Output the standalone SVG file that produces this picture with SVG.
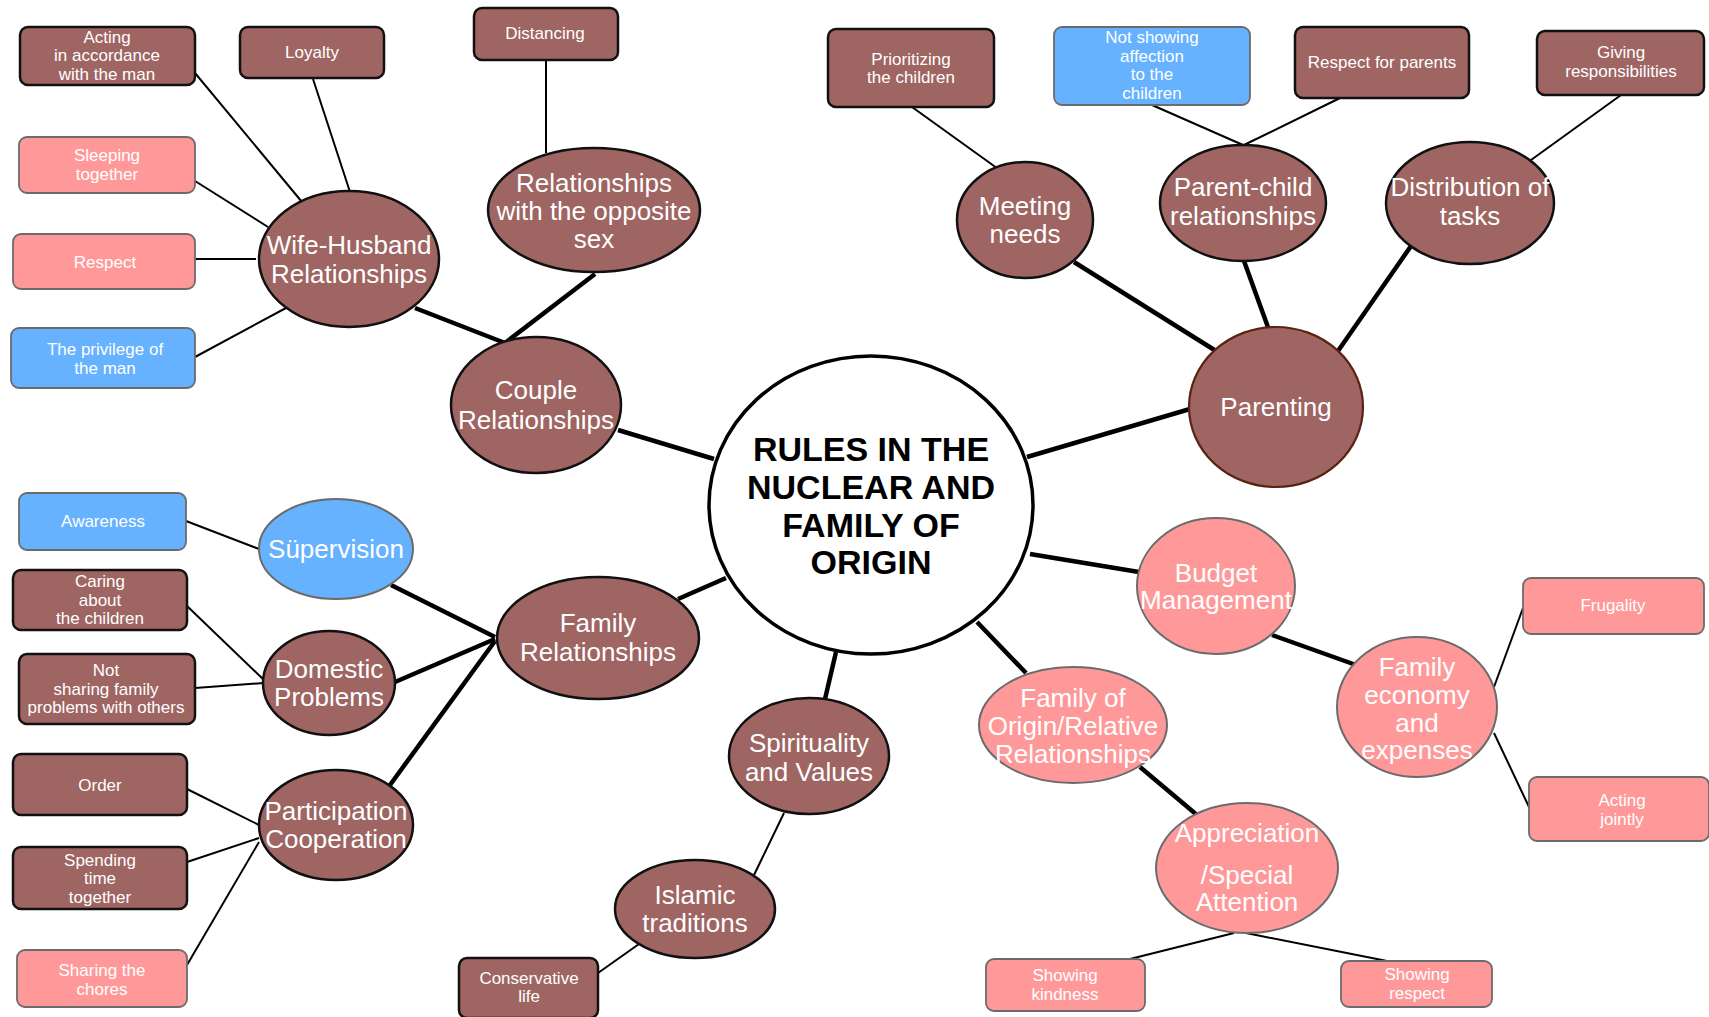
<svg xmlns="http://www.w3.org/2000/svg" width="1709" height="1017" viewBox="0 0 1709 1017">
<style>
.bg{fill:#ffffff}
.br{fill:#9E6562;stroke:#111;stroke-width:2.5}
.pk{fill:#FF9999;stroke:#6b6b6b;stroke-width:1.8}
.bl{fill:#66B2FF;stroke:#6b6b6b;stroke-width:1.8}
.brx{fill:#9E6562;stroke:#111;stroke-width:2.5}
.pkx{fill:#FF9999;stroke:#6b6b6b;stroke-width:2}
.blx{fill:#66B2FF;stroke:#6b6b6b;stroke-width:2}
.par{fill:#9E6562;stroke:#5a2413;stroke-width:2.2}
.ctr{fill:#ffffff;stroke:#000;stroke-width:3.5}
.bt{font-family:"Liberation Sans",Arial,sans-serif;font-size:17px;fill:#fff;text-anchor:middle}
.et{font-family:"Liberation Sans",Arial,sans-serif;font-size:26px;fill:#fff;text-anchor:middle}
.ct{font-family:"Liberation Sans",Arial,sans-serif;font-size:34px;font-weight:bold;fill:#000;text-anchor:middle}
.thick{stroke:#000;stroke-width:4.5;fill:none}
.thin{stroke:#000;stroke-width:2;fill:none}
</style>
<rect class="bg" x="0" y="0" width="1709" height="1017"/>
<g id="connectors">
<line class="thick" x1="714" y1="459" x2="618" y2="430"/>
<line class="thick" x1="505" y1="343" x2="415" y2="308"/>
<line class="thick" x1="505" y1="343" x2="595" y2="274"/>
<line class="thick" x1="1027" y1="457" x2="1190" y2="409"/>
<line class="thick" x1="1216" y1="351" x2="1074" y2="262"/>
<line class="thick" x1="1269" y1="330" x2="1244" y2="261"/>
<line class="thick" x1="1338" y1="351" x2="1411" y2="246"/>
<line class="thick" x1="1030" y1="554" x2="1139" y2="572"/>
<line class="thick" x1="1272" y1="635" x2="1356" y2="665"/>
<line class="thick" x1="977" y1="622" x2="1026" y2="673"/>
<line class="thick" x1="1140" y1="767" x2="1197" y2="815"/>
<line class="thick" x1="836" y1="652" x2="825" y2="699"/>
<line class="thick" x1="726" y1="578" x2="678" y2="599"/>
<line class="thick" x1="495" y1="637" x2="391" y2="585"/>
<line class="thick" x1="495" y1="639" x2="395" y2="682"/>
<line class="thick" x1="495" y1="641" x2="390" y2="785"/>
<line class="thin" x1="784" y1="813" x2="754" y2="875"/>
<line class="thin" x1="639" y1="944" x2="598" y2="973"/>
<line class="thin" x1="302" y1="202" x2="195" y2="73"/>
<line class="thin" x1="350" y1="192" x2="313" y2="79"/>
<line class="thin" x1="268" y1="227" x2="195" y2="181"/>
<line class="thin" x1="256" y1="259" x2="195" y2="259"/>
<line class="thin" x1="286" y1="308" x2="195" y2="357"/>
<line class="thin" x1="546" y1="153" x2="546" y2="60"/>
<line class="thin" x1="1001" y1="171" x2="912" y2="107"/>
<line class="thin" x1="1243" y1="145" x2="1152" y2="105"/>
<line class="thin" x1="1244" y1="145" x2="1340" y2="98"/>
<line class="thin" x1="1531" y1="160" x2="1621" y2="95"/>
<line class="thin" x1="259" y1="549" x2="186" y2="521"/>
<line class="thin" x1="264" y1="680" x2="187" y2="606"/>
<line class="thin" x1="264" y1="683" x2="195" y2="688"/>
<line class="thin" x1="259" y1="825" x2="187" y2="789"/>
<line class="thin" x1="259" y1="838" x2="187" y2="862"/>
<line class="thin" x1="259" y1="842" x2="187" y2="965"/>
<line class="thin" x1="1494" y1="687" x2="1523" y2="608"/>
<line class="thin" x1="1494" y1="733" x2="1530" y2="809"/>
<line class="thin" x1="1234" y1="933" x2="1130" y2="959"/>
<line class="thin" x1="1246" y1="933" x2="1387" y2="961"/>
</g>
<g id="n-center"><ellipse class="ctr" cx="871" cy="505" rx="162" ry="149"/>
<text class="ct" x="871" y="461">RULES IN THE</text><text class="ct" x="871" y="499">NUCLEAR AND</text><text class="ct" x="871" y="537">FAMILY OF</text><text class="ct" x="871" y="574">ORIGIN</text></g>
<g id="n-couple"><ellipse class="brx" cx="536" cy="405" rx="85" ry="68"/><text class="et" x="536" y="399">Couple</text><text class="et" x="536" y="429">Relationships</text></g>
<g id="n-wifehusband"><ellipse class="brx" cx="349" cy="259" rx="90" ry="68"/><text class="et" x="349" y="254">Wife-Husband</text><text class="et" x="349" y="283">Relationships</text></g>
<g id="n-opposite"><ellipse class="brx" cx="594" cy="210" rx="106" ry="62"/><text class="et" x="594" y="192">Relationships</text><text class="et" x="594" y="220">with the opposite</text><text class="et" x="594" y="248">sex</text></g>
<g id="n-supervision"><ellipse class="blx" cx="336" cy="549" rx="77" ry="50"/><text class="et" x="336" y="558">Süpervision</text></g>
<g id="n-familyrel"><ellipse class="brx" cx="598" cy="638" rx="101" ry="61"/><text class="et" x="598" y="632">Family</text><text class="et" x="598" y="661">Relationships</text></g>
<g id="n-domestic"><ellipse class="brx" cx="329" cy="683" rx="66" ry="52"/><text class="et" x="329" y="678">Domestic</text><text class="et" x="329" y="706">Problems</text></g>
<g id="n-participation"><ellipse class="brx" cx="336" cy="825" rx="77" ry="55"/><text class="et" x="336" y="820">Participation</text><text class="et" x="336" y="848">Cooperation</text></g>
<g id="n-spirituality"><ellipse class="brx" cx="809" cy="756" rx="80" ry="58"/><text class="et" x="809" y="752">Spirituality</text><text class="et" x="809" y="781">and Values</text></g>
<g id="n-islamic"><ellipse class="brx" cx="695" cy="909" rx="80" ry="49"/><text class="et" x="695" y="904">Islamic</text><text class="et" x="695" y="932">traditions</text></g>
<g id="n-parenting"><ellipse class="par" cx="1276" cy="407" rx="87" ry="80"/><text class="et" x="1276" y="416">Parenting</text></g>
<g id="n-meeting"><ellipse class="brx" cx="1025" cy="220" rx="68" ry="58"/><text class="et" x="1025" y="215">Meeting</text><text class="et" x="1025" y="243">needs</text></g>
<g id="n-parentchild"><ellipse class="brx" cx="1243" cy="203" rx="83" ry="58"/><text class="et" x="1243" y="196">Parent-child</text><text class="et" x="1243" y="225">relationships</text></g>
<g id="n-distribution"><ellipse class="brx" cx="1470" cy="203" rx="84" ry="61"/><text class="et" x="1470" y="196">Distribution of</text><text class="et" x="1470" y="225">tasks</text></g>
<g id="n-budget"><ellipse class="pkx" cx="1216" cy="586" rx="79" ry="68"/><text class="et" x="1216" y="582">Budget</text><text class="et" x="1216" y="609">Management</text></g>
<g id="n-economy"><ellipse class="pkx" cx="1417" cy="707" rx="80" ry="70"/><text class="et" x="1417" y="676">Family</text><text class="et" x="1417" y="704">economy</text><text class="et" x="1417" y="732">and</text><text class="et" x="1417" y="759">expenses</text></g>
<g id="n-origin"><ellipse class="pkx" cx="1073" cy="725" rx="94" ry="58"/><text class="et" x="1073" y="707">Family of</text><text class="et" x="1073" y="735">Origin/Relative</text><text class="et" x="1073" y="763">Relationships</text></g>
<g id="n-appreciation"><ellipse class="pkx" cx="1247" cy="868" rx="91" ry="65"/><text class="et" x="1247" y="842">Appreciation</text><text class="et" x="1247" y="884">/Special</text><text class="et" x="1247" y="911">Attention</text></g>
<g id="b-acting"><rect class="br" x="20" y="27" width="175" height="58" rx="8"/><text class="bt" x="107" y="43">Acting</text><text class="bt" x="107" y="61">in accordance</text><text class="bt" x="107" y="80">with the man</text></g>
<g id="b-loyalty"><rect class="br" x="240" y="27" width="144" height="51" rx="8"/><text class="bt" x="312" y="58">Loyalty</text></g>
<g id="b-distancing"><rect class="br" x="474" y="8" width="144" height="52" rx="8"/><text class="bt" x="545" y="39">Distancing</text></g>
<g id="b-sleeping"><rect class="pk" x="19" y="137" width="176" height="56" rx="8"/><text class="bt" x="107" y="161">Sleeping</text><text class="bt" x="107" y="180">together</text></g>
<g id="b-respect"><rect class="pk" x="13" y="234" width="182" height="55" rx="8"/><text class="bt" x="105" y="268">Respect</text></g>
<g id="b-privilege"><rect class="bl" x="11" y="328" width="184" height="60" rx="8"/><text class="bt" x="105" y="355">The privilege of</text><text class="bt" x="105" y="374">the man</text></g>
<g id="b-awareness"><rect class="bl" x="19" y="493" width="167" height="57" rx="8"/><text class="bt" x="103" y="527">Awareness</text></g>
<g id="b-caring"><rect class="br" x="13" y="570" width="174" height="60" rx="8"/><text class="bt" x="100" y="587">Caring</text><text class="bt" x="100" y="606">about</text><text class="bt" x="100" y="624">the children</text></g>
<g id="b-notsharing"><rect class="br" x="19" y="654" width="176" height="70" rx="8"/><text class="bt" x="106" y="676">Not</text><text class="bt" x="106" y="695">sharing family</text><text class="bt" x="106" y="713">problems with others</text></g>
<g id="b-order"><rect class="br" x="13" y="754" width="174" height="61" rx="8"/><text class="bt" x="100" y="791">Order</text></g>
<g id="b-spending"><rect class="br" x="13" y="847" width="174" height="62" rx="8"/><text class="bt" x="100" y="866">Spending</text><text class="bt" x="100" y="884">time</text><text class="bt" x="100" y="903">together</text></g>
<g id="b-chores"><rect class="pk" x="17" y="950" width="170" height="57" rx="8"/><text class="bt" x="102" y="976">Sharing the</text><text class="bt" x="102" y="995">chores</text></g>
<g id="b-conservative"><rect class="br" x="459" y="958" width="139" height="60" rx="8"/><text class="bt" x="529" y="984">Conservative</text><text class="bt" x="529" y="1002">life</text></g>
<g id="b-prioritizing"><rect class="br" x="828" y="29" width="166" height="78" rx="8"/><text class="bt" x="911" y="65">Prioritizing</text><text class="bt" x="911" y="83">the children</text></g>
<g id="b-affection"><rect class="bl" x="1054" y="27" width="196" height="78" rx="8"/><text class="bt" x="1152" y="43">Not showing</text><text class="bt" x="1152" y="62">affection</text><text class="bt" x="1152" y="80">to the</text><text class="bt" x="1152" y="99">children</text></g>
<g id="b-respectparents"><rect class="br" x="1295" y="27" width="174" height="71" rx="8"/><text class="bt" x="1382" y="68">Respect for parents</text></g>
<g id="b-giving"><rect class="br" x="1537" y="31" width="167" height="64" rx="8"/><text class="bt" x="1621" y="58">Giving</text><text class="bt" x="1621" y="77">responsibilities</text></g>
<g id="b-frugality"><rect class="pk" x="1523" y="578" width="181" height="56" rx="8"/><text class="bt" x="1613" y="611">Frugality</text></g>
<g id="b-jointly"><rect class="pk" x="1529" y="777" width="180" height="64" rx="8"/><text class="bt" x="1622" y="806">Acting</text><text class="bt" x="1622" y="825">jointly</text></g>
<g id="b-kindness"><rect class="pk" x="986" y="959" width="159" height="52" rx="8"/><text class="bt" x="1065" y="981">Showing</text><text class="bt" x="1065" y="1000">kindness</text></g>
<g id="b-showrespect"><rect class="pk" x="1341" y="961" width="151" height="46" rx="8"/><text class="bt" x="1417" y="980">Showing</text><text class="bt" x="1417" y="999">respect</text></g>
</svg>
